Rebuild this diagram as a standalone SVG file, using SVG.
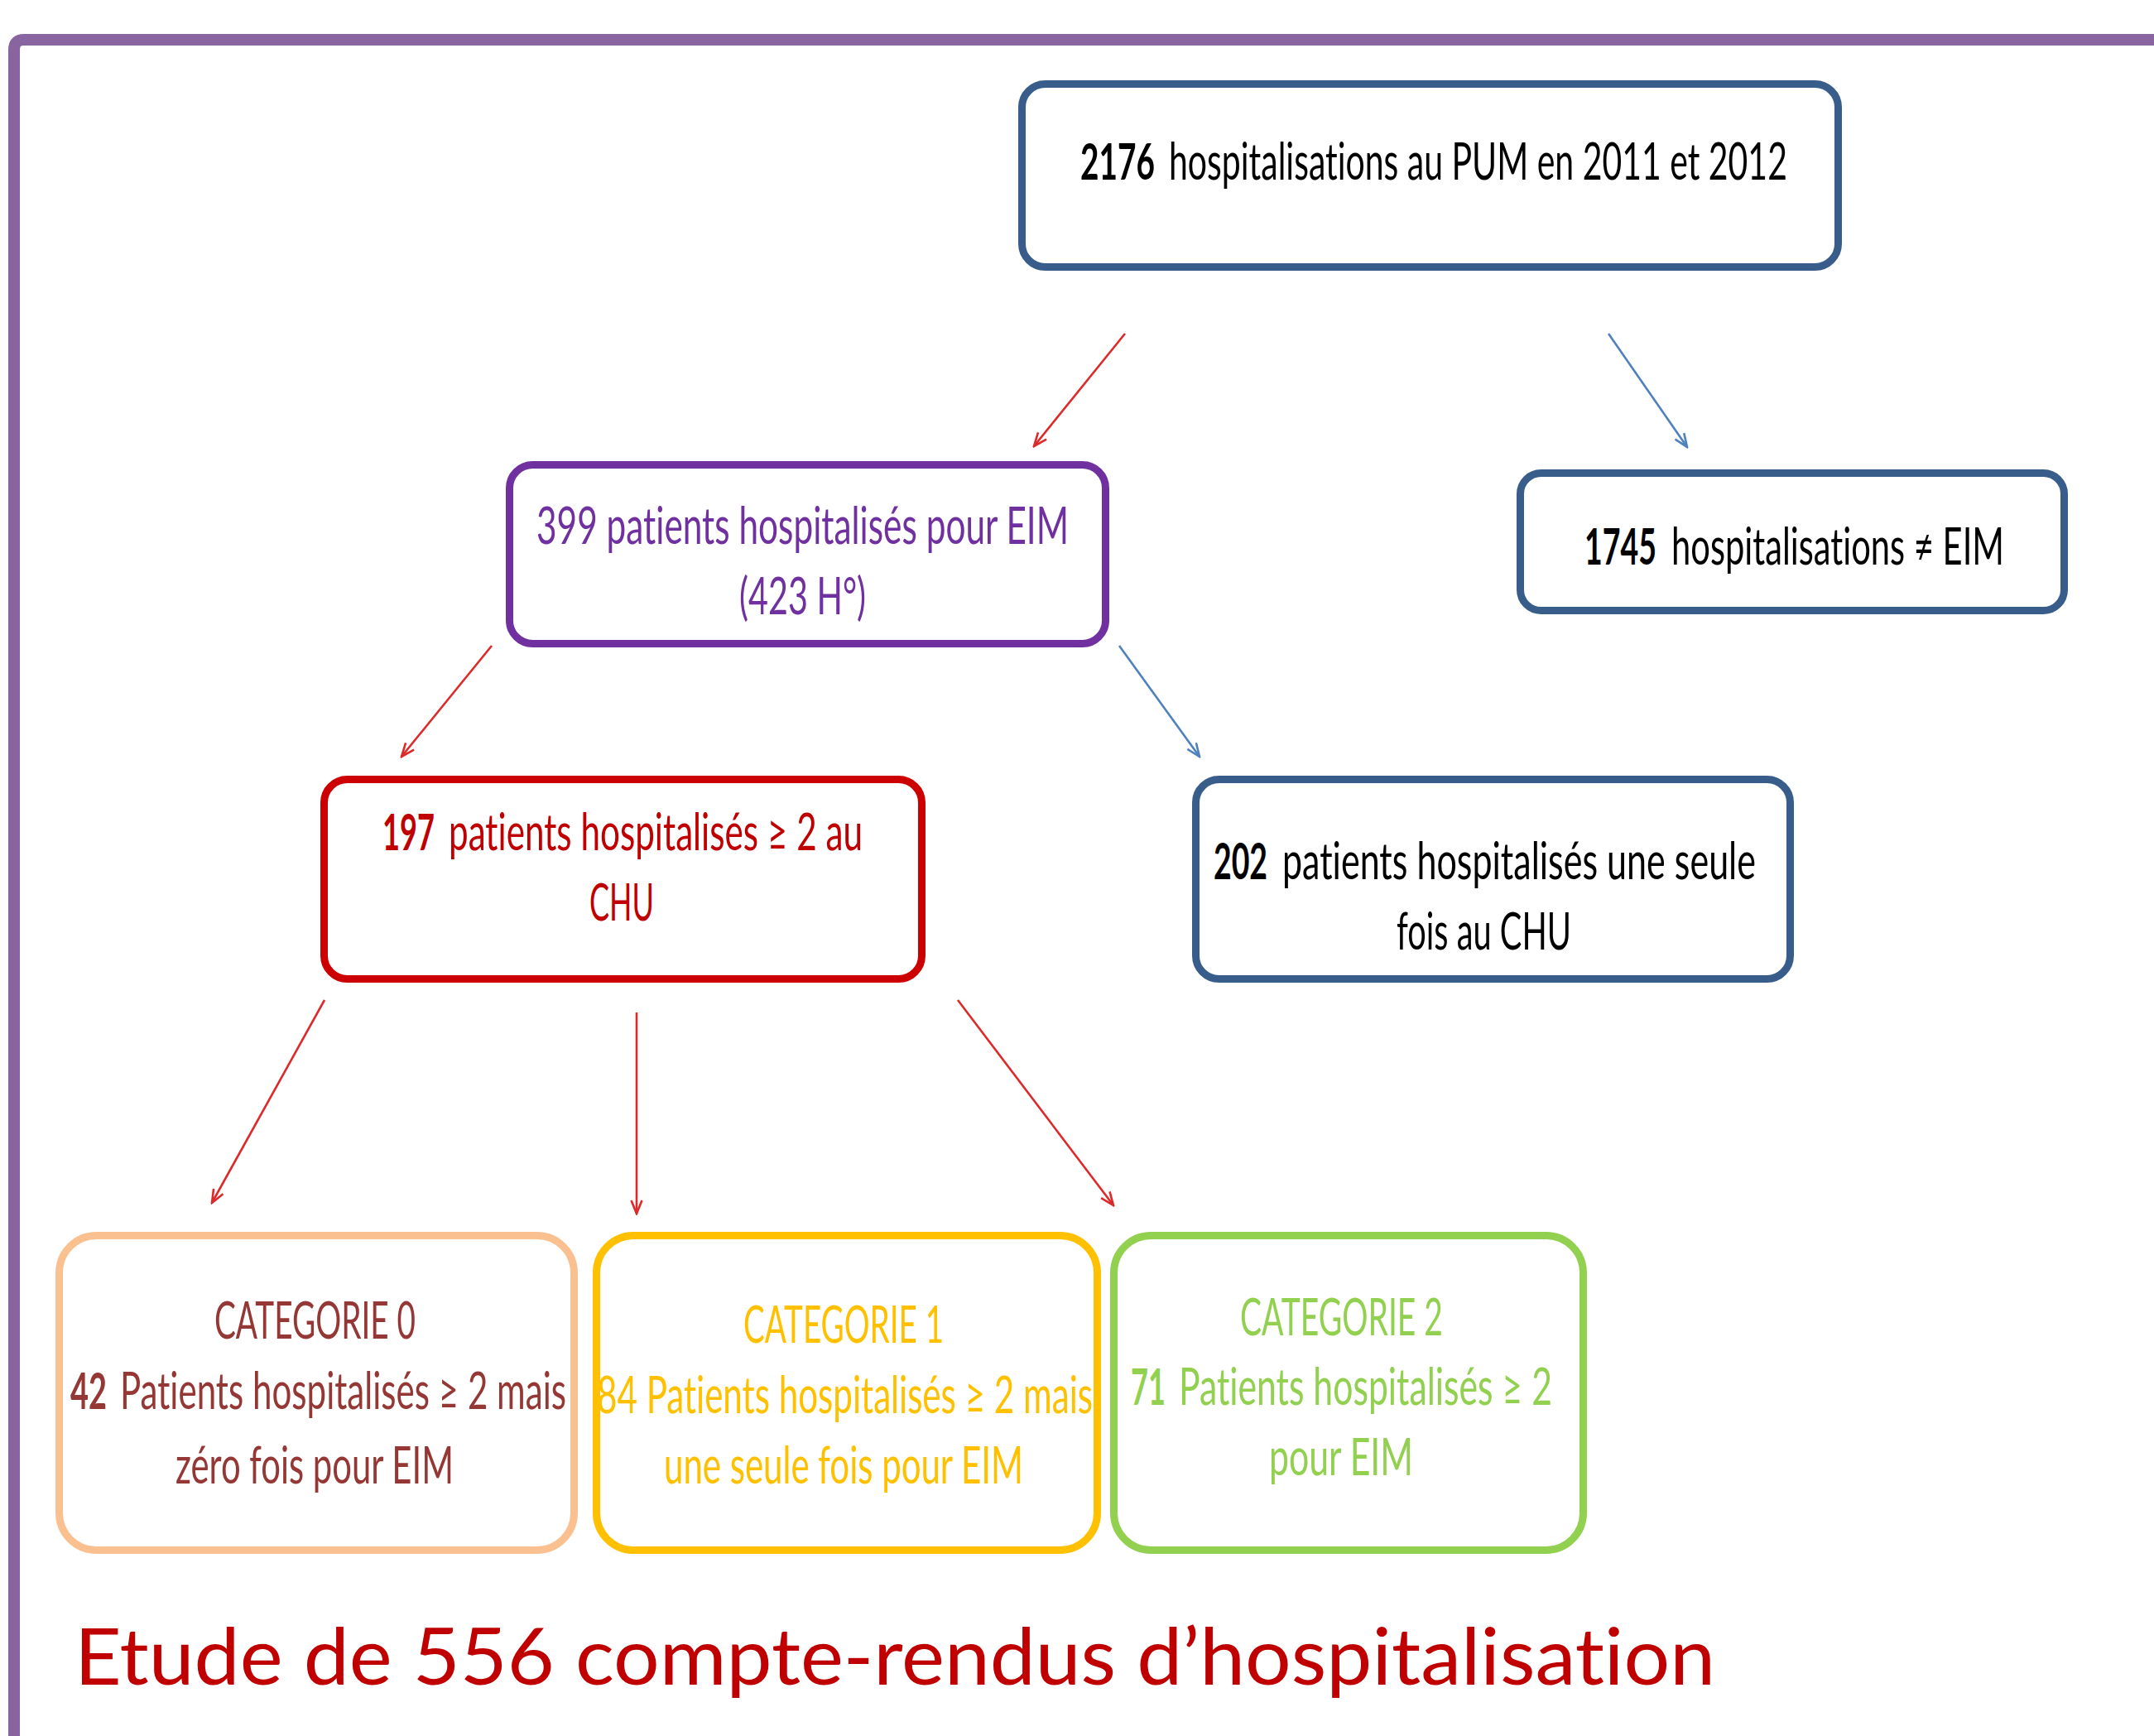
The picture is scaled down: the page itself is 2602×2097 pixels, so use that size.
<svg xmlns="http://www.w3.org/2000/svg" width="2602" height="2097" viewBox="0 0 2602 2097">
<style>
text{font-family:Lato,"Open Sans","Liberation Sans",sans-serif;font-size:61px;font-variant-ligatures:none;}
.b{font-weight:bold;}
.box{fill:#ffffff;stroke-width:9;}
.blue{stroke:#385d8a;}
.blk{fill:#000000;}
.conr{stroke:#dc2a2a;stroke-width:2.6;fill:none;marker-end:url(#ar);}
.conb{stroke:#4f81bd;stroke-width:2.6;fill:none;marker-end:url(#ab);}
</style>
<defs>
<marker id="ar" markerUnits="userSpaceOnUse" markerWidth="20" markerHeight="16" refX="18" refY="8" orient="auto">
<path d="M2,1.5 L18,8 L2,14.5" fill="none" stroke="#dc2a2a" stroke-width="2.6"/>
</marker>
<marker id="ab" markerUnits="userSpaceOnUse" markerWidth="20" markerHeight="16" refX="18" refY="8" orient="auto">
<path d="M2,1.5 L18,8 L2,14.5" fill="none" stroke="#4f81bd" stroke-width="2.6"/>
</marker>
</defs>
<rect x="0" y="0" width="2602" height="2097" fill="#ffffff"/>
<path id="frame" d="M17,2097 V60 Q17,48 29,48 H2602" fill="none" stroke="#8864a0" stroke-width="14"/>

<g id="connectors">
<line class="conr" x1="1359" y1="403" x2="1249" y2="539"/>
<line class="conb" x1="1943" y1="403" x2="2038" y2="540"/>
<line class="conr" x1="594" y1="780" x2="485" y2="914"/>
<line class="conb" x1="1352" y1="780" x2="1449" y2="914"/>
<line class="conr" x1="392" y1="1208" x2="256" y2="1453"/>
<line class="conr" x1="769" y1="1223" x2="769" y2="1466"/>
<line class="conr" x1="1157" y1="1208" x2="1345" y2="1456"/>
</g>

<g id="n2176">
<rect class="box blue" x="1234.5" y="101.5" width="986" height="221" rx="28"/>
<text class="blk b" transform="translate(1305 217) scale(0.7 1)" textLength="128.6" lengthAdjust="spacingAndGlyphs">2176</text>
<text class="blk" transform="translate(1412 217) scale(0.7 1)" textLength="1067" lengthAdjust="spacingAndGlyphs">hospitalisations au PUM en 2011  et 2012</text>
</g>

<g id="n399">
<rect class="box" stroke="#7030a0" x="615.5" y="561.5" width="720" height="216" rx="28"/>
<text fill="#7030a0" transform="translate(648 657) scale(0.7 1)" textLength="918.6" lengthAdjust="spacingAndGlyphs">399 patients hospitalisés pour EIM</text>
<text fill="#7030a0" transform="translate(893 742) scale(0.7 1)" textLength="218.6" lengthAdjust="spacingAndGlyphs">(423 H°)</text>
</g>

<g id="n1745">
<rect class="box blue" x="1836.5" y="571.5" width="657" height="166" rx="25"/>
<text class="blk b" transform="translate(1914 682) scale(0.7 1)" textLength="124.3" lengthAdjust="spacingAndGlyphs">1745</text>
<text class="blk" transform="translate(2019 682) scale(0.7 1)" textLength="574.3" lengthAdjust="spacingAndGlyphs">hospitalisations ≠ EIM</text>
</g>

<g id="n197">
<rect class="box" stroke="#cc0000" x="391.5" y="941.5" width="722" height="241" rx="28"/>
<text class="b" fill="#c00000" transform="translate(462 1027) scale(0.7 1)" textLength="90" lengthAdjust="spacingAndGlyphs">197</text>
<text fill="#c00000" transform="translate(542 1027) scale(0.7 1)" textLength="714.3" lengthAdjust="spacingAndGlyphs">patients hospitalisés ≥ 2 au</text>
<text fill="#c00000" transform="translate(712 1112) scale(0.7 1)" textLength="111.4" lengthAdjust="spacingAndGlyphs">CHU</text>
</g>

<g id="n202">
<rect class="box blue" x="1444.5" y="941.5" width="718" height="241" rx="28"/>
<text class="blk b" transform="translate(1466 1062) scale(0.7 1)" textLength="92.9" lengthAdjust="spacingAndGlyphs">202</text>
<text class="blk" transform="translate(1549 1062) scale(0.7 1)" textLength="817.1" lengthAdjust="spacingAndGlyphs">patients hospitalisés une seule</text>
<text class="blk" transform="translate(1687 1147) scale(0.7 1)" textLength="301.4" lengthAdjust="spacingAndGlyphs">fois au CHU</text>
</g>

<g id="cat0">
<rect class="box" stroke="#fac090" x="71.5" y="1492.5" width="622" height="380" rx="45"/>
<text fill="#953735" transform="translate(259 1617) scale(0.7 1)" textLength="347.1" lengthAdjust="spacingAndGlyphs">CATEGORIE 0</text>
<text class="b" fill="#953735" transform="translate(85 1702) scale(0.7 1)" textLength="62.9" lengthAdjust="spacingAndGlyphs">42</text>
<text fill="#953735" transform="translate(145 1702) scale(0.7 1)" textLength="770" lengthAdjust="spacingAndGlyphs">Patients hospitalisés ≥ 2 mais</text>
<text fill="#953735" transform="translate(212 1792) scale(0.7 1)" textLength="480" lengthAdjust="spacingAndGlyphs">zéro fois pour EIM</text>
</g>

<g id="cat1">
<rect class="box" stroke="#ffc000" x="720.5" y="1492.5" width="605" height="380" rx="45"/>
<text fill="#ffc000" transform="translate(898 1622) scale(0.7 1)" textLength="345.7" lengthAdjust="spacingAndGlyphs">CATEGORIE 1</text>
<text fill="#ffc000" transform="translate(721 1707) scale(0.7 1)" textLength="855.7" lengthAdjust="spacingAndGlyphs">84 Patients hospitalisés ≥ 2 mais</text>
<text fill="#ffc000" transform="translate(802 1792) scale(0.7 1)" textLength="620" lengthAdjust="spacingAndGlyphs">une seule fois pour EIM</text>
</g>

<g id="cat2">
<rect class="box" stroke="#92d050" x="1345.5" y="1492.5" width="567" height="380" rx="45"/>
<text fill="#92d050" transform="translate(1498 1613) scale(0.7 1)" textLength="350" lengthAdjust="spacingAndGlyphs">CATEGORIE 2</text>
<text class="b" fill="#92d050" transform="translate(1366 1697) scale(0.7 1)" textLength="60" lengthAdjust="spacingAndGlyphs">71</text>
<text fill="#92d050" transform="translate(1424 1697) scale(0.7 1)" textLength="644.3" lengthAdjust="spacingAndGlyphs">Patients hospitalisés ≥ 2</text>
<text fill="#92d050" transform="translate(1533 1782) scale(0.7 1)" textLength="248.6" lengthAdjust="spacingAndGlyphs">pour EIM</text>
</g>

<text id="title" fill="#c00000" x="90" y="2035" style="font-size:95px" textLength="1982" lengthAdjust="spacingAndGlyphs">Etude de 556 compte-rendus d’hospitalisation</text>
</svg>
